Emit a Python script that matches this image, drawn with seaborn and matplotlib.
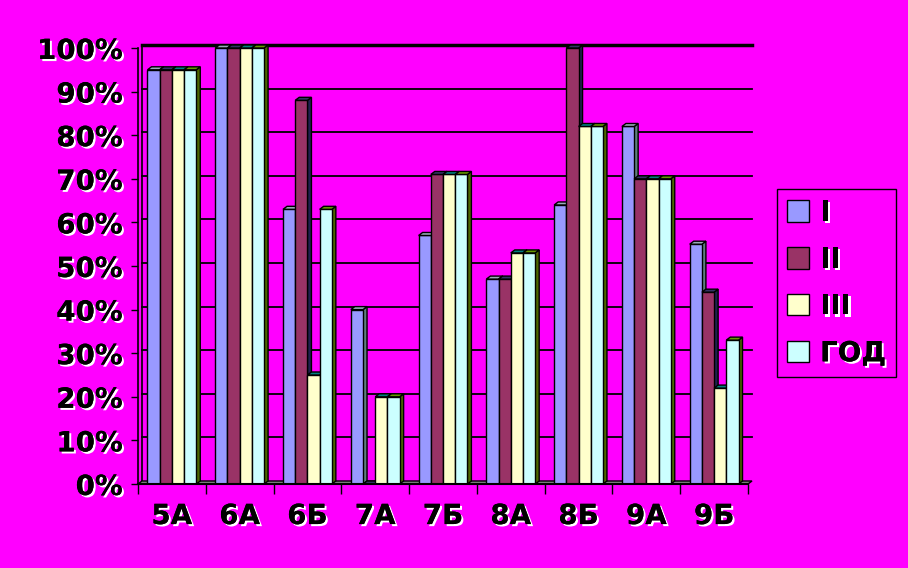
import numpy as np
import pandas as pd
import seaborn as sns
import matplotlib.pyplot as plt
import matplotlib.patheffects as pe
from matplotlib.patches import Polygon
from matplotlib.transforms import ScaledTranslation

# class names and the four series (percent)
classes = ['5А', '6А', '6Б', '7А', '7Б', '8А', '8Б', '9А', '9Б']
series = ['I', 'II', 'III', 'ГОД']
vals_I = [95, 100, 63, 40, 57, 47, 64, 82, 55]
vals_II = [95, 100, 88, 0, 71, 47, 100, 70, 44]
vals_III = [95, 100, 25, 20, 71, 53, 82, 70, 22]
vals_god = [95, 100, 63, 20, 71, 53, 82, 70, 33]

front = ['#9999FF', '#993366', '#FFFFCC', '#CCFFFF']
side = ['#5F7F7F', '#202050', '#007878', '#4D6600']
top = ['#9AAABB', '#333366', '#008080', '#669900']
bg = '#FF00FF'

rows = []
for s, vals in zip(series, [vals_I, vals_II, vals_III, vals_god]):
    for c, v in zip(classes, vals):
        rows.append({'class': c, 'series': s, 'value': v})
df = pd.DataFrame(rows)

plt.rcParams['font.family'] = ['DejaVu Sans']
plt.rcParams['font.weight'] = 'bold'
emboss = [pe.withSimplePatchShadow(offset=(1.5, -1.5), shadow_rgbFace='white', alpha=1.0),
          pe.Normal()]

fig = plt.figure(figsize=(9.08, 5.68), dpi=100, facecolor=bg)
ax = fig.add_axes([138 / 908, 1 - 484 / 568, 610 / 908, 436 / 568])
ax.set_facecolor(bg)

sns.barplot(data=df, x='class', y='value', hue='series', order=classes,
            hue_order=series, palette=dict(zip(series, front)),
            width=0.72, edgecolor='black', linewidth=1.0, saturation=1,
            ax=ax, legend=False, zorder=3)

n = len(classes)
ax.set_xlim(-0.5, n - 0.5)
ax.set_ylim(0, 100)

# fake 3D depth
dx, dy = 4, 3
inv = ax.transData.inverted()
shift = ax.transData + ScaledTranslation(dx / 100, dy / 100, fig.dpi_scale_trans)

# floor
(fx0, fy0), (fx1, _) = ax.transData.transform([(-0.5, 0), (n - 0.5, 0)])
floor = inv.transform([(fx0, fy0), (fx0 + dx, fy0 + dy), (fx1 + dx, fy0 + dy), (fx1, fy0)])
ax.add_patch(Polygon(floor, closed=True, facecolor='#808080', edgecolor='black',
                     linewidth=1.0, zorder=2, clip_on=False))

for i, p in enumerate(ax.patches[:]):
    if isinstance(p, Polygon):
        continue
    s_idx = i // n
    x0, w, h = p.get_x(), p.get_width(), p.get_height()
    (ax0, ay0), (ax1, ay1) = ax.transData.transform([(x0, 0), (x0 + w, h)])
    side_pts = inv.transform([(ax1, ay0), (ax1 + dx, ay0 + dy), (ax1 + dx, ay1 + dy), (ax1, ay1)])
    top_pts = inv.transform([(ax0, ay1), (ax0 + dx, ay1 + dy), (ax1 + dx, ay1 + dy), (ax1, ay1)])
    z = 3 + x0
    p.set_zorder(z + 0.01)
    ax.add_patch(Polygon(side_pts, closed=True, facecolor=side[s_idx], edgecolor='black',
                         linewidth=1.0, zorder=z, clip_on=False))
    ax.add_patch(Polygon(top_pts, closed=True, facecolor=top[s_idx], edgecolor='black',
                         linewidth=1.0, zorder=z + 0.02, clip_on=False))

# grid on the back wall
for t in range(10, 101, 10):
    ax.plot([-0.5, n - 0.5], [t, t], color='black', linewidth=2.5 if t == 100 else 1.3,
            transform=shift, zorder=1, clip_on=False)
ax.plot([-0.5, -0.5], [0, 100], color='black', linewidth=1.2, transform=shift,
        zorder=1, clip_on=False)

ax.set_yticks(range(0, 101, 10))
ax.set_yticklabels([f'{t}%' for t in range(0, 101, 10)])

for sp in ['top', 'right']:
    ax.spines[sp].set_visible(False)
ax.spines['left'].set_linewidth(1.2)
ax.spines['bottom'].set_linewidth(1.5)
ax.spines['bottom'].set_zorder(20)

ax.set_xticks(np.arange(-0.5, n, 1), minor=True)
ax.tick_params(axis='x', which='major', length=0, pad=13, labelsize=20)
ax.tick_params(axis='x', which='minor', length=7, width=1, direction='out')
ax.tick_params(axis='y', length=5, width=1, pad=6, labelsize=20)
ax.set_xlabel('')
ax.set_ylabel('')
for lab in ax.get_xticklabels() + ax.get_yticklabels():
    lab.set_path_effects(emboss)

handles = [plt.Rectangle((0, 0), 1, 1, facecolor=c, edgecolor='black', linewidth=1) for c in front]
leg = fig.legend(handles, series, loc='center left',
                 bbox_to_anchor=(777 / 908, 1 - 283 / 568), frameon=True,
                 fancybox=False, edgecolor='black', facecolor=bg, framealpha=1,
                 prop={'size': 20, 'weight': 'bold'}, labelspacing=0.68,
                 handlelength=0.8, handleheight=0.8, borderpad=0.35,
                 handletextpad=0.4, borderaxespad=0)
leg.get_frame().set_linewidth(1.0)
for t in leg.get_texts():
    t.set_path_effects(emboss)

fig.savefig('out.png', dpi=100, facecolor=bg)
